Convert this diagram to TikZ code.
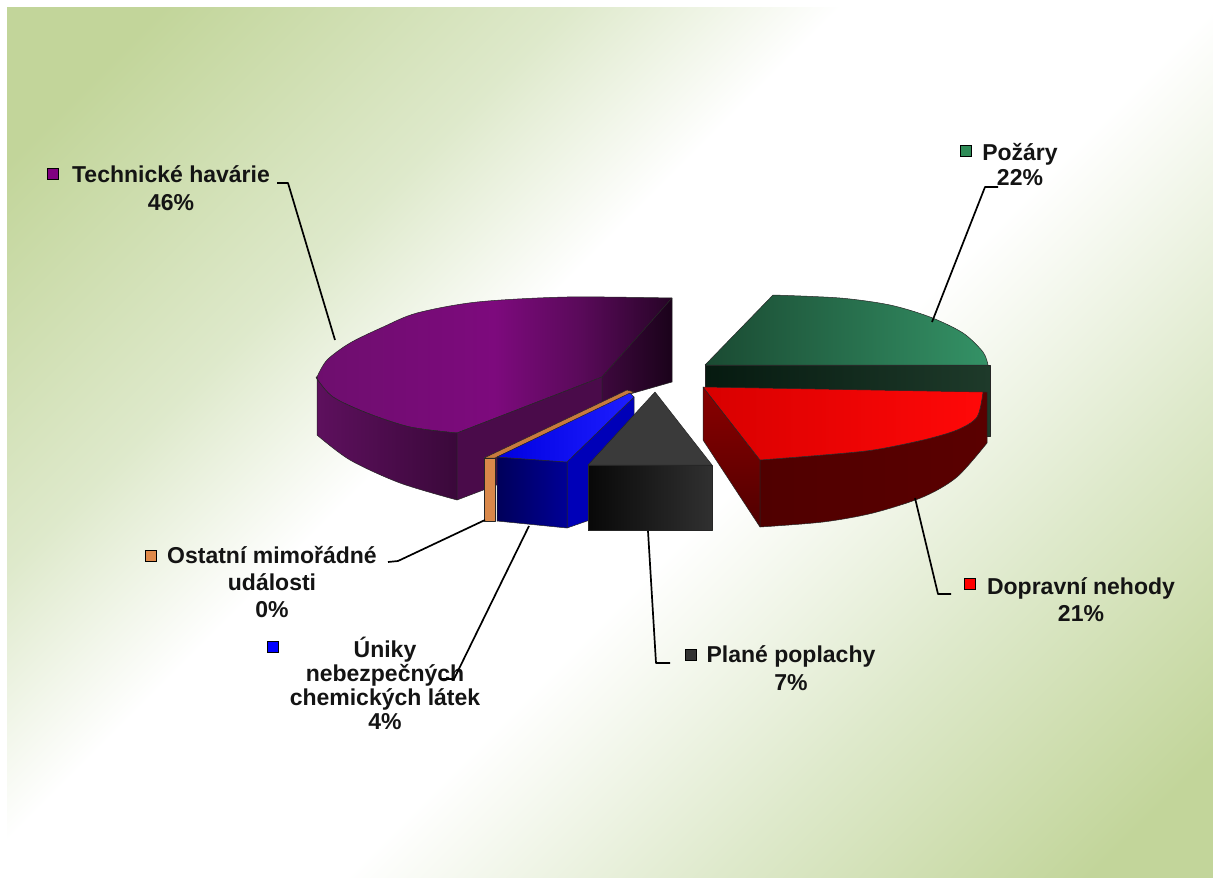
\documentclass[tikz,border=0pt]{standalone}
\usepackage{fontspec}
\setmainfont{Liberation Sans}
\definecolor{bggreen}{HTML}{C2D59A}
\definecolor{bglight}{HTML}{DEE9CB}
\pgfdeclareverticalshading{bgshade}{100bp}{color(0bp)=(bggreen); color(23bp)=(bggreen); color(34bp)=(bglight); color(45bp)=(white); color(56bp)=(white); color(64bp)=(bglight); color(76bp)=(bggreen); color(100bp)=(bggreen)}
\definecolor{purpL}{HTML}{6E0E6E}
\definecolor{purpM}{HTML}{7D0A7D}
\definecolor{purpN}{HTML}{5A0A5A}
\definecolor{purpD}{HTML}{260426}
\pgfdeclarehorizontalshading{purptop}{100bp}{color(0bp)=(purpL); color(25bp)=(purpL); color(50bp)=(purpM); color(62bp)=(purpN); color(75bp)=(purpD); color(100bp)=(purpD)}
\definecolor{keyPurp}{HTML}{800080}
\definecolor{keyGreen}{HTML}{2E8B57}
\definecolor{keyRed}{HTML}{FF0000}
\definecolor{keyGray}{HTML}{333333}
\definecolor{keyOrange}{HTML}{E08A4A}
\definecolor{keyBlue}{HTML}{0000FF}
\begin{document}
\begin{tikzpicture}[x=1pt,y=-1pt,
  edge/.style={draw=black!85, line width=0.5pt, line join=round},
  leader/.style={draw=black, line width=1.7pt, line join=round},
  lab/.style={font=\bfseries\fontsize{23}{27}\selectfont, align=center, inner sep=0pt, anchor=base, text=black!92},
  key/.style={draw=black, line width=0.9pt, minimum size=11pt, inner sep=0pt}]
\useasboundingbox (0,0) rectangle (1213,878);
% background
\fill[white] (0,0) rectangle (1213,878);
\begin{scope}
  \clip (7,7) rectangle (1213,878);
  \shade[shading=bgshade, shading angle=45] (7,-161) rectangle (1213,1045);
\end{scope}

% ---- purple slice (Technicke havarie)
\shadedraw[edge, shading=purptop]
  plot[smooth] coordinates {(672,298) (567,297) (477,302) (417,313) (383,327) (350,343) (327,360) (317,377)}
  -- plot[smooth] coordinates {(317,379) (333,397) (367,413) (410,427) (457,433)}
  -- (602,377) -- cycle;
\shadedraw[edge, left color={rgb,255:red,94;green,16;blue,94}, right color={rgb,255:red,58;green,8;blue,58}]
  plot[smooth] coordinates {(317,377) (317,379) (333,397) (367,413) (410,427) (457,433)}
  -- (457,500) -- plot[smooth] coordinates {(457,500) (400,483) (350,460) (317,435)} -- cycle;
\filldraw[edge, fill={rgb,255:red,74;green,11;blue,74}] (457,433) -- (602,377) -- (602,445) -- (457,500) -- cycle;
\shadedraw[edge, left color={rgb,255:red,61;green,8;blue,61}, right color={rgb,255:red,26;green,2;blue,26}]
  (602,377) -- (672,298) -- (672,382) -- (630,394) -- (602,445) -- cycle;

% ---- orange slice (Ostatni)
\filldraw[edge, fill={rgb,255:red,200;green,122;blue,62}] (484,458) -- (627,390) -- (634,392) -- (495,458) -- cycle;
\filldraw[edge, fill={rgb,255:red,217;green,136;blue,74}] (484,458) rectangle (495,521);

% ---- blue slice (Uniky)
\filldraw[edge, fill={rgb,255:red,0;green,0;blue,184}] (567,462) -- (634,397) -- (634,465) -- (590,520) -- (567,528) -- cycle;
\shadedraw[edge, left color={rgb,255:red,0;green,0;blue,90}, right color={rgb,255:red,0;green,0;blue,150}] (497,457) -- (567,462) -- (567,528) -- (497,521) -- cycle;
\shadedraw[edge, left color={rgb,255:red,0;green,0;blue,225}, right color={rgb,255:red,30;green,30;blue,255}] (497,457) -- (630,393) -- (634,397) -- (567,462) -- cycle;

% ---- black slice (Plane poplachy)
\filldraw[edge, fill={rgb,255:red,58;green,58;blue,58}] (588,465) -- (655,392) -- (712,465) -- cycle;
\shadedraw[edge, left color={rgb,255:red,8;green,8;blue,8}, right color={rgb,255:red,48;green,48;blue,48}] (588,465) rectangle (712,530);

% ---- green slice (Pozary)
\shadedraw[edge, left color={rgb,255:red,6;green,26;blue,16}, right color={rgb,255:red,30;green,58;blue,42}] (705,365) rectangle (990,436);
\shadedraw[edge, left color={rgb,255:red,26;green,74;blue,50}, middle color={rgb,255:red,46;green,138;blue,92}, right color={rgb,255:red,52;green,146;blue,102}]
  (705,365) -- plot[smooth] coordinates {(773,295) (840,298) (890,305) (930,317) (963,333) (983,352) (988,365)} -- cycle;

% ---- red slice (Dopravni nehody)
\shadedraw[edge, top color={rgb,255:red,139;green,0;blue,0}, bottom color={rgb,255:red,80;green,0;blue,0}] (703,387) -- (760,460) -- (760,527) -- (703,440) -- cycle;
\shadedraw[edge, left color={rgb,255:red,80;green,0;blue,0}, middle color={rgb,255:red,110;green,0;blue,0}, right color={rgb,255:red,90;green,0;blue,0}]
  plot[smooth] coordinates {(760,460) (823,455) (873,450) (923,440) (957,430) (977,417) (983,392)}
  -- (987,392) -- (987,443)
  -- plot[smooth] coordinates {(987,443) (957,477) (923,497) (873,513) (823,522) (760,527)} -- cycle;
\shadedraw[edge, left color={rgb,255:red,216;green,0;blue,0}, right color={rgb,255:red,255;green,8;blue,8}]
  (703,387) -- (983,392) -- plot[smooth] coordinates {(983,392) (977,417) (957,430) (923,440) (873,450) (823,455) (760,460)} -- cycle;

% ---- labels (anchor base = baseline of the last line)
\node[lab, font=\bfseries\fontsize{23}{28}\selectfont] (tech) at (171,210) {Technické havárie\\46\%};
\node[lab, font=\bfseries\fontsize{23}{25}\selectfont] (poz) at (1020,185) {Požáry\\22\%};
\node[lab] (dop) at (1081,621) {Dopravní nehody\\21\%};
\node[lab, font=\bfseries\fontsize{23}{28}\selectfont] (pla) at (791,690) {Plané poplachy\\7\%};
\node[lab] (ost) at (272,617) {Ostatní mimořádné\\události\\0\%};
\node[lab, font=\bfseries\fontsize{23}{24}\selectfont] (uni) at (385,729) {Úniky\\nebezpečných\\chemických látek\\4\%};

% ---- legend keys
\node[key, fill=keyPurp] (kTech) at (53,174) {};
\node[key, fill=keyGreen] (kPoz) at (966,151) {};
\node[key, fill=keyRed] (kDop) at (970,584) {};
\node[key, fill=keyGray] (kPla) at (691,655) {};
\node[key, fill=keyOrange] (kOst) at (151,556) {};
\node[key, fill=keyBlue] (kUni) at (273,647) {};

% ---- leader lines
\coordinate (sTech) at (335,340);
\coordinate (bTech) at (288,183);
\coordinate (eTech) at (277,183);
\coordinate (sPoz) at (932,322);
\coordinate (bPoz) at (985,187);
\coordinate (ePoz) at (998,187);
\coordinate (sDop) at (915,498);
\coordinate (bDop) at (938,594);
\coordinate (eDop) at (951,594);
\coordinate (sPla) at (648,531);
\coordinate (bPla) at (656,663);
\coordinate (ePla) at (670,663);
\coordinate (sOst) at (485,520);
\coordinate (bOst) at (398,561);
\coordinate (eOst) at (388,562);
\coordinate (sUni) at (529,526);
\coordinate (bUni) at (454,679);
\coordinate (eUni) at (440,679);
\draw[leader] (sTech) -- (bTech) -- (eTech);
\draw[leader] (sPoz) -- (bPoz) -- (ePoz);
\draw[leader] (sDop) -- (bDop) -- (eDop);
\draw[leader] (sPla) -- (bPla) -- (ePla);
\draw[leader] (sOst) -- (bOst) -- (eOst);
\draw[leader] (sUni) -- (bUni) -- (eUni);
\end{tikzpicture}
\end{document}
